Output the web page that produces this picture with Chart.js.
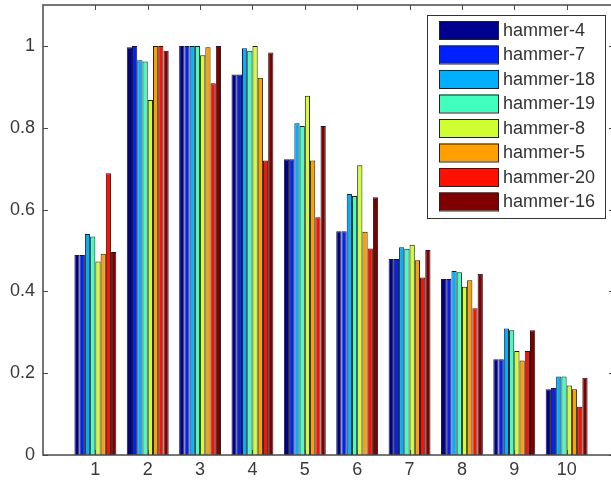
<!DOCTYPE html>
<html>
<head>
<meta charset="utf-8">
<script src="https://cdn.jsdelivr.net/npm/chart.js@4.4.1/dist/chart.umd.min.js"></script>
<style>
  html, body { margin: 0; padding: 0; background: #fff; overflow: hidden; }
  #wrap { width: 640px; height: 482px; }
</style>
</head>
<body>
<div id="wrap"><canvas id="grafico" width="640" height="482"></canvas></div>
<script>
// categorie sull'asse x
const categorie = [1, 2, 3, 4, 5, 6, 7, 8, 9, 10];
const tickY = [0, 0.2, 0.4, 0.6, 0.8, 1];

const nomi = ["hammer-4", "hammer-7", "hammer-18", "hammer-19", "hammer-8", "hammer-5", "hammer-20", "hammer-16"];
const colori = ["#00008f", "#0020ff", "#00afff", "#40ffbf", "#cfff30", "#ffa000", "#ff1000", "#800000"];

const hammer4  = [0.489, 0.997, 1.0, 0.930, 0.723, 0.547, 0.479, 0.430, 0.234, 0.161];
const hammer7  = [0.489, 1.0,   1.0, 0.930, 0.723, 0.547, 0.479, 0.430, 0.234, 0.164];
const hammer18 = [0.540, 0.965, 1.0, 0.994, 0.811, 0.638, 0.508, 0.450, 0.309, 0.192];
const hammer19 = [0.534, 0.962, 1.0, 0.988, 0.804, 0.633, 0.504, 0.447, 0.305, 0.192];
const hammer8  = [0.473, 0.868, 0.977, 1.0, 0.878, 0.708, 0.514, 0.411, 0.254, 0.170];
const hammer5  = [0.492, 1.0,   0.997, 0.922, 0.720, 0.546, 0.476, 0.427, 0.231, 0.161];
const hammer20 = [0.689, 1.0,   0.909, 0.720, 0.581, 0.505, 0.434, 0.359, 0.254, 0.118];
const hammer16 = [0.496, 0.988, 1.0, 0.984, 0.804, 0.630, 0.501, 0.443, 0.305, 0.189];

const serie = [hammer4, hammer7, hammer18, hammer19, hammer8, hammer5, hammer20, hammer16];

const FONT = "Liberation Sans, Arial, sans-serif";
const ASSE = "#4a4a4a";

// riquadro e tacche verso l'interno, come in MATLAB
const boxPlugin = {
  id: "box",
  afterDraw(chart) {
    const ctx = chart.ctx;
    const a = chart.chartArea;
    const sx = chart.scales.x;
    const sy = chart.scales.y;
    ctx.save();
    ctx.strokeStyle = ASSE;
    ctx.lineWidth = 1;
    ctx.beginPath();
    categorie.forEach(function (c) {
      const px = Math.round(sx.getPixelForValue(c)) + 0.5;
      ctx.moveTo(px, a.bottom); ctx.lineTo(px, a.bottom - 5);
      ctx.moveTo(px, a.top); ctx.lineTo(px, a.top + 5);
    });
    tickY.forEach(function (v) {
      const py = Math.round(sy.getPixelForValue(v)) + 0.5;
      ctx.moveTo(a.left, py); ctx.lineTo(a.left + 5, py);
      ctx.moveTo(a.right, py); ctx.lineTo(a.right - 10, py);
    });
    ctx.stroke();
    ctx.lineWidth = 1.5;
    ctx.strokeRect(a.left, a.top, a.right - a.left, a.bottom - a.top);

    // legenda
    const lx = 427, ly = 15, lw = 178, lh = 203;
    ctx.fillStyle = "#fff";
    ctx.fillRect(lx, ly, lw, lh);
    ctx.lineWidth = 1;
    ctx.strokeStyle = "#333";
    ctx.strokeRect(lx + 0.5, ly + 0.5, lw, lh);
    ctx.font = "18px " + FONT;
    ctx.textBaseline = "middle";
    ctx.textAlign = "left";
    chart.data.datasets.forEach(function (ds, i) {
      const ry = 21 + i * 24.5;
      ctx.fillStyle = ds.backgroundColor;
      ctx.fillRect(439, ry, 59, 18);
      ctx.strokeStyle = "#222";
      ctx.strokeRect(439.5, ry + 0.5, 59, 18);
      ctx.fillStyle = "#333";
      ctx.fillText(ds.label, 503, ry + 10);
    });
    ctx.restore();
  }
};

function generaGrafico() {
  const ctx = document.getElementById("grafico").getContext("2d");
  new Chart(ctx, {
    type: "bar",
    data: {
      datasets: serie.map(function (valori, i) {
        return {
          label: nomi[i],
          data: valori.map(function (v, k) { return { x: categorie[k], y: v }; }),
          backgroundColor: colori[i],
          borderColor: "#1a1a1a",
          borderWidth: 1,
          categoryPercentage: 0.8,
          barPercentage: 1.0
        };
      })
    },
    options: {
      responsive: false,
      animation: false,
      layout: { padding: { left: 0, right: 21, top: 5, bottom: 0 } },
      plugins: { legend: { display: false }, tooltip: { enabled: false } },
      scales: {
        x: {
          type: "linear",
          min: 0,
          max: 11,
          offset: false,
          grid: { display: false, drawTicks: false, offset: false },
          border: { display: false },
          afterBuildTicks: function (s) {
            s.ticks = categorie.map(function (c) { return { value: c }; });
          },
          afterFit: function (s) {
            s.height = 27;
            s.paddingLeft = 0; s.paddingRight = 0;
            s.paddingTop = 0; s.paddingBottom = 0;
          },
          ticks: {
            autoSkip: false,
            maxRotation: 0,
            padding: 4,
            color: "#3a3a3a",
            font: { family: FONT, size: 18 },
            callback: function (v) { return String(v); }
          }
        },
        y: {
          min: 0,
          max: 1.1,
          grid: { display: false, drawTicks: false },
          border: { display: false },
          afterBuildTicks: function (s) {
            s.ticks = tickY.map(function (v) { return { value: v }; });
          },
          afterFit: function (s) {
            s.width = 43;
            s.paddingLeft = 0; s.paddingRight = 0;
            s.paddingTop = 0; s.paddingBottom = 0;
          },
          ticks: {
            padding: 8,
            color: "#3a3a3a",
            font: { family: FONT, size: 18 },
            callback: function (v) { return String(Math.round(v * 10) / 10); }
          }
        }
      }
    },
    plugins: [boxPlugin]
  });
}

generaGrafico();
</script>
</body>
</html>
